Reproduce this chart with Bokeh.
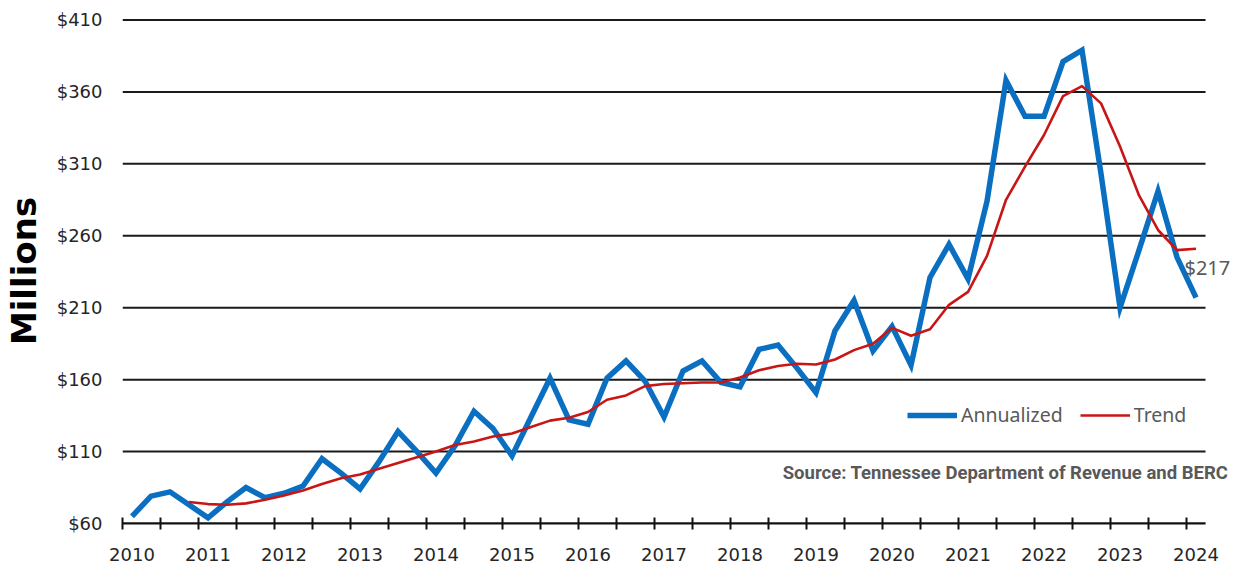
from bokeh.plotting import figure
from bokeh.models import (FixedTicker, NumeralTickFormatter, Legend, LegendItem,
                          Label, Range1d)
from bokeh.embed import file_html
from bokeh.resources import INLINE

# ---------------- data (quarterly, 2010Q1 .. 2024Q1) ----------------
years = [2010, 2011, 2012, 2013, 2014, 2015, 2016, 2017, 2018, 2019,
         2020, 2021, 2022, 2023, 2024]
ytick_values = [60, 110, 160, 210, 260, 310, 360, 410]

annualized = [65, 79, 82, 73, 64, 75, 85, 78,          # 2010-2011
              81, 86, 105, 95, 84, 103, 124, 110,      # 2012-2013
              95, 114, 138, 126, 107, 134, 161, 132,   # 2014-2015
              129, 161, 173, 159, 134, 166, 173, 158,  # 2016-2017
              155, 181, 184, 168, 151, 194, 215, 180,  # 2018-2019
              197, 170, 231, 254, 230, 284, 368, 343,  # 2020-2021
              343, 381, 389, 303, 210, 250, 291, 245,  # 2022-2023
              217]                                     # 2024Q1

trend_start = 3  # trend begins at the 4th quarter (2010Q4)
trend = [75, 73.5, 73, 74, 76.5, 79.5, 83, 87.5, 91.5,
         94, 98, 102, 106, 110, 114.5, 117, 120.5, 122.5,
         127, 131.5, 133.5, 137.5, 146, 149, 155.5, 157, 157.5,
         158, 158, 161.5, 166.5, 169.5, 171, 170.5, 174, 180.5,
         185, 196, 190.5, 195, 212, 221, 246, 285, 308,
         330, 357, 364, 352, 322, 288, 264, 250, 251]

last_label = "$217"
source_text = "Source: Tennessee Department of Revenue and BERC"

x_ann = list(range(len(annualized)))
x_trend = list(range(trend_start, trend_start + len(trend)))
n = len(annualized)

# ---------------- figure ----------------
p = figure(width=1238, height=567, output_backend="svg", toolbar_location=None,
           x_range=Range1d(-0.5, n + 1.13), y_range=Range1d(60, 411),
           min_border_left=122, min_border_right=2, min_border_top=18,
           min_border_bottom=44)
p.outline_line_color = None
p.background_fill_color = "white"
p.border_fill_color = "white"
p.xgrid.grid_line_color = None
p.ygrid.grid_line_color = None

BLUE = "#0B6FC1"
RED = "#C81616"

# horizontal gridlines over the category extent only
p.segment(x0=[-0.5] * len(ytick_values), y0=ytick_values,
          x1=[n - 0.5] * len(ytick_values), y1=ytick_values,
          line_color="#1a1a1a", line_width=2)

r_ann = p.line(x_ann, annualized, line_color=BLUE, line_width=5.5,
               line_join="miter")
r_trend = p.line(x_trend, trend, line_color=RED, line_width=2.6,
                 line_join="round")

# ---------------- axes ----------------
xa = p.xaxis[0]
xa.bounds = (-0.5, n - 0.5)
xa.ticker = FixedTicker(ticks=[4 * i for i in range(len(years))],
                        minor_ticks=[-0.5 + 2 * k for k in range((n + 1) // 2)])
xa.major_label_overrides = {4 * i: str(y) for i, y in enumerate(years)}
xa.major_tick_in = 0
xa.major_tick_out = 0
xa.minor_tick_in = 6
xa.minor_tick_out = 6
xa.minor_tick_line_color = "#111111"
xa.minor_tick_line_width = 2
xa.axis_line_color = "#111111"
xa.axis_line_width = 2
xa.major_label_standoff = 18
xa.major_label_text_font = "DejaVu Sans"
xa.major_label_text_font_size = "18px"
xa.major_label_text_color = "#262626"

ya = p.yaxis[0]
ya.ticker = FixedTicker(ticks=ytick_values)
ya.formatter = NumeralTickFormatter(format="$0")
ya.axis_line_color = None
ya.major_tick_line_color = None
ya.major_tick_in = 0
ya.major_tick_out = 0
ya.minor_tick_line_color = None
ya.minor_tick_in = 0
ya.minor_tick_out = 0
ya.major_label_standoff = 20
ya.major_label_text_font = "DejaVu Sans"
ya.major_label_text_font_size = "18px"
ya.major_label_text_color = "#262626"
ya.axis_label = "Millions"
ya.axis_label_text_font = "DejaVu Sans"
ya.axis_label_text_font_style = "bold"
ya.axis_label_text_font_size = "34px"
ya.axis_label_text_color = "#000000"
ya.axis_label_standoff = 10

# ---------------- legend ----------------
legend = Legend(items=[LegendItem(label="Annualized", renderers=[r_ann]),
                       LegendItem(label="Trend", renderers=[r_trend])],
                orientation="horizontal", location=(785, 95),
                border_line_color=None, background_fill_alpha=0,
                glyph_width=50, glyph_height=20, label_standoff=4,
                spacing=17, padding=0, margin=0,
                label_text_font="Noto Sans", label_text_font_size="19.5px",
                label_text_color="#595959")
p.add_layout(legend)

# ---------------- annotations ----------------
p.add_layout(Label(x=55.39, y=237.8, text=last_label, text_align="left",
                   text_baseline="middle", text_font="Noto Sans",
                   text_font_size="20px", text_color="#595959"))
p.add_layout(Label(x=57.7, y=95.4, text=source_text, text_align="right",
                   text_baseline="middle", text_font="Roboto",
                   text_font_style="bold", text_font_size="18.5px",
                   text_color="#595959"))

open("out.html", "w").write(file_html(p, INLINE))
